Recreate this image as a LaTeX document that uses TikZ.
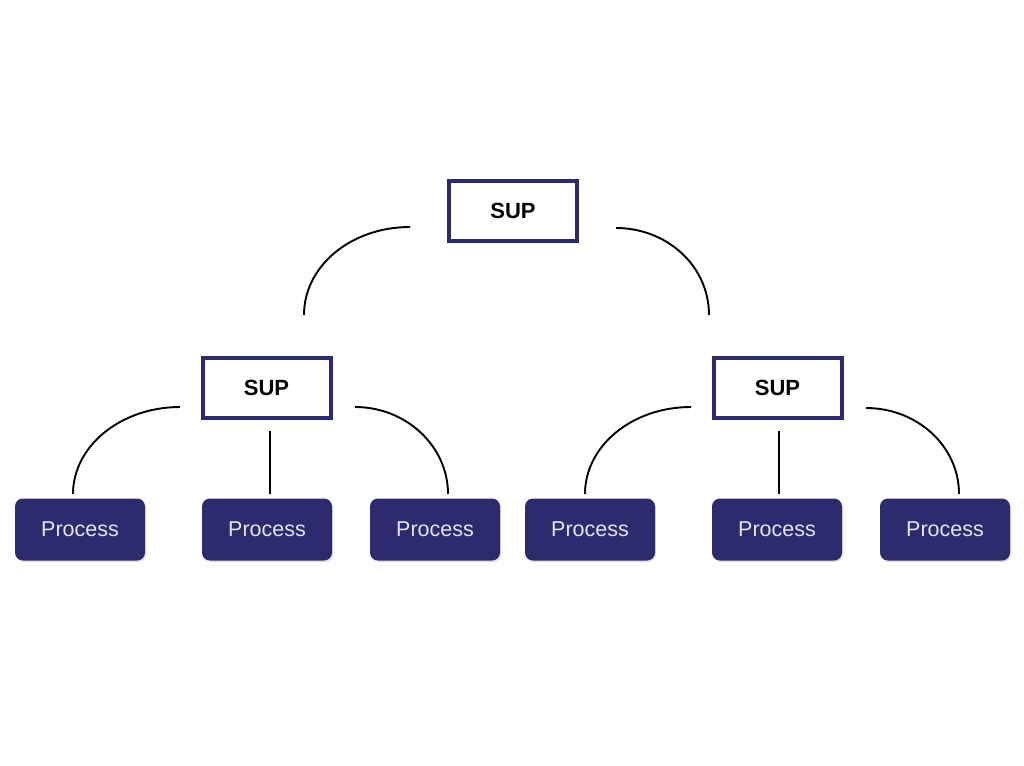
\documentclass[tikz,border=0pt]{standalone}
\usepackage{fontspec}
\setmainfont{Liberation Sans}
\usetikzlibrary{shadows}
\definecolor{navy}{HTML}{2E2A6E}
\definecolor{ptext}{HTML}{E4E3F2}
\begin{document}
\begin{tikzpicture}[x=1pt,y=-1pt,
  supbox/.style={draw=navy, line width=4pt, fill=white, minimum width=128pt, minimum height=60pt,
    font=\fontsize{22}{26}\selectfont\bfseries, text=black,
    drop shadow={opacity=0.25, shadow xshift=1pt, shadow yshift=-1.5pt}},
  procbox/.style={fill=navy, rounded corners=8pt, minimum width=130pt, minimum height=62pt,
    font=\fontsize{21.5}{26}\selectfont, text=ptext,
    drop shadow={opacity=0.25, shadow xshift=1pt, shadow yshift=-1.5pt}},
  conn/.style={line width=1.9pt, black}]
\useasboundingbox (0,0) rectangle (1024,765);
\fill[white] (0,0) rectangle (1024,765);
% SUP nodes
\node[supbox] (top) at (513,210.5) {SUP};
\node[supbox] (lsup) at (266.5,387.5) {SUP};
\node[supbox] (rsup) at (777.5,387.5) {SUP};
% Process nodes
\node[procbox] (p1) at (80,529.5) {Process};
\node[procbox] (p2) at (267,529.5) {Process};
\node[procbox] (p3) at (435,529.5) {Process};
\node[procbox] (p4) at (590,529.5) {Process};
\node[procbox] (p5) at (777,529.5) {Process};
\node[procbox] (p6) at (945,529.5) {Process};
% free ends
\coordinate (t1) at (410,227);  \coordinate (t1e) at (304,315);
\coordinate (t2) at (616,228);  \coordinate (t2e) at (709,315);
\coordinate (l1) at (180,407);  \coordinate (l1e) at (73,494);
\coordinate (l2) at (270,431);  \coordinate (l2e) at (270,494);
\coordinate (l3) at (355,407);  \coordinate (l3e) at (448,494);
\coordinate (r1) at (691,407);  \coordinate (r1e) at (585,494);
\coordinate (r2) at (779,431);  \coordinate (r2e) at (779,494);
\coordinate (r3) at (866,408);  \coordinate (r3e) at (959,494);
% connectors
\draw[conn] (t1) .. controls (351,227) and (304,266) .. (t1e);
\draw[conn] (t2) .. controls (667,228) and (709,266) .. (t2e);
\draw[conn] (l1) .. controls (121,407) and (73,446) .. (l1e);
\draw[conn] (l2) -- (l2e);
\draw[conn] (l3) .. controls (406,407) and (448,446) .. (l3e);
\draw[conn] (r1) .. controls (632,407) and (585,446) .. (r1e);
\draw[conn] (r2) -- (r2e);
\draw[conn] (r3) .. controls (917,408) and (959,446) .. (r3e);
\end{tikzpicture}
\end{document}
